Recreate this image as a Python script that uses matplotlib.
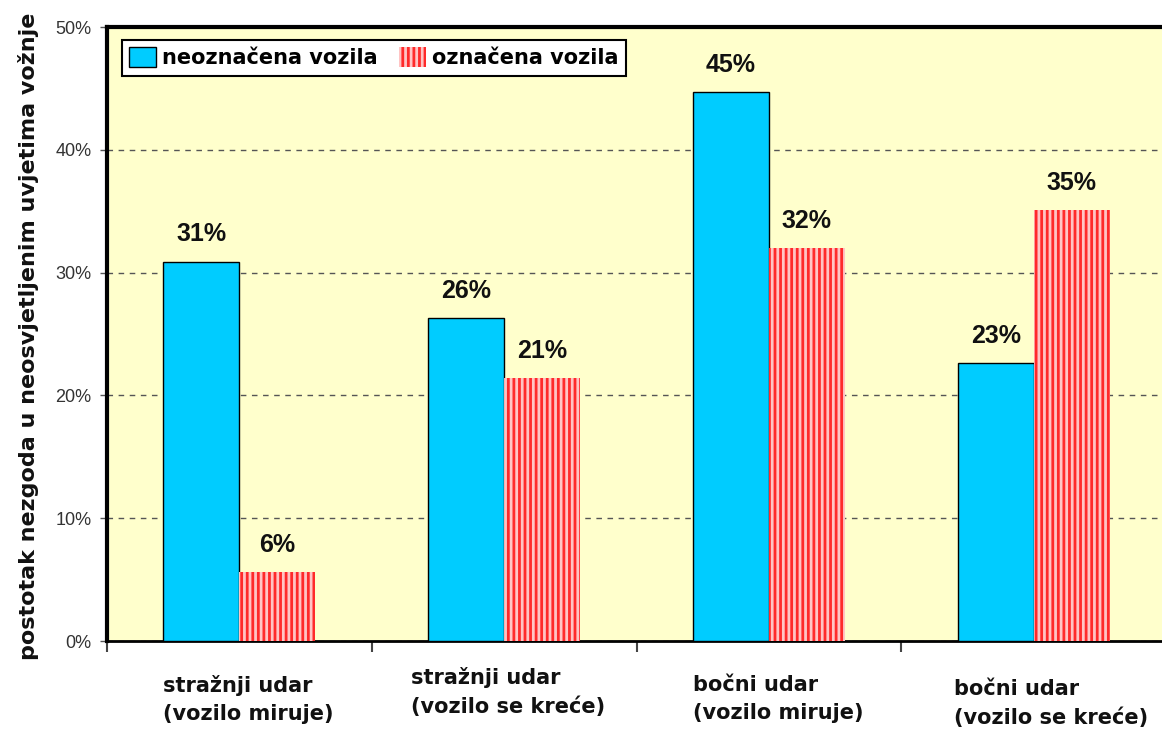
import numpy as np
import matplotlib
matplotlib.use("Agg")
import matplotlib.pyplot as plt
from matplotlib.ticker import PercentFormatter, FixedLocator
from matplotlib import transforms

# udio nezgoda po vrsti udara
kategorije = ["stražnji udar\n(vozilo miruje)",
              "stražnji udar\n(vozilo se kreće)",
              "bočni udar\n(vozilo miruje)",
              "bočni udar\n(vozilo se kreće)"]
neoznacena = [30.9, 26.3, 44.7, 22.6]
oznacena = [5.6, 21.4, 32.0, 35.1]
serije = ["neoznačena vozila", "označena vozila"]

plt.rcParams['hatch.linewidth'] = 2.0
plt.rcParams['font.family'] = ['Liberation Sans', 'DejaVu Sans']

fig = plt.figure(figsize=(11.62, 7.36), dpi=100)
ax = fig.add_axes([107/1162, 95/736, 1059/1162, 614/736])
ax.set_facecolor('#FFFFCC')

x = np.arange(len(kategorije))
w = 0.287

b1 = ax.bar(x - w/2, neoznacena, w, color='#00CCFF', edgecolor='black',
            linewidth=1.0, label=serije[0], zorder=3)
b2 = ax.bar(x + w/2, oznacena, w, color='#FFC4C4', edgecolor='#FF2A2A',
            linewidth=0, hatch='|||', label=serije[1], zorder=3)

# vrijednosti iznad stupaca
for bars, vals in [(b1, neoznacena), (b2, oznacena)]:
    for r, v in zip(bars, vals):
        ax.annotate(f"{v:.0f}%", (r.get_x() + r.get_width()/2, v),
                    xytext=(0, 11), textcoords='offset points',
                    ha='center', va='bottom', fontsize=18,
                    fontweight='bold', color='#111111', zorder=4)

ax.set_xlim(-0.5, len(kategorije) - 0.5)
ax.set_ylim(0, 50)
ax.yaxis.set_major_formatter(PercentFormatter(decimals=0))
ax.set_yticks(np.arange(0, 51, 10))
ax.tick_params(axis='y', direction='out', length=5, width=1, colors='#555555',
               labelsize=13, labelcolor='#333333', pad=6)
ax.grid(axis='y', color='#555555', linestyle=(0, (4, 4)), linewidth=1, zorder=1)

# oznake na granicama kategorija
ax.set_xticks([])
ax.xaxis.set_minor_locator(FixedLocator(np.arange(-0.5, len(kategorije), 1.0)))
ax.tick_params(axis='x', which='minor', direction='out', length=8, width=1.5,
               colors='#444444')

for s in ['left', 'top']:
    ax.spines[s].set_linewidth(3)
ax.spines['bottom'].set_linewidth(2)
ax.spines['right'].set_visible(False)

# nazivi kategorija ispod osi
pomaci = [(0, 0), (-17, 8), (0, 0), (-4, -4)]
for xi, lab, (dx, dy) in zip(x, kategorije, pomaci):
    tr = ax.get_xaxis_transform() + transforms.ScaledTranslation(
        dx/100, (dy - 34)/100, fig.dpi_scale_trans)
    ax.text(xi - w, 0, lab, transform=tr, ha='left', va='top',
            multialignment='left', fontsize=15, fontweight='bold',
            family='DejaVu Sans', linespacing=1.5, color='#111111')

ax.set_ylabel("postotak nezgoda u neosvjetljenim uvjetima vožnje",
              fontsize=16, fontweight='bold', family='DejaVu Sans',
              color='#111111')
ax.yaxis.set_label_coords(-0.064, 0.497)

leg = ax.legend(loc='upper left', bbox_to_anchor=(0.014, 0.979),
                borderaxespad=0, ncol=2, fancybox=False, framealpha=1,
                edgecolor='black', handlelength=1.3, handleheight=1.1,
                handletextpad=0.3, columnspacing=1.0, borderpad=0.35,
                prop={'family': 'DejaVu Sans', 'weight': 'bold', 'size': 15})
leg.get_frame().set_linewidth(1.5)

fig.savefig("out.png", dpi=100)
